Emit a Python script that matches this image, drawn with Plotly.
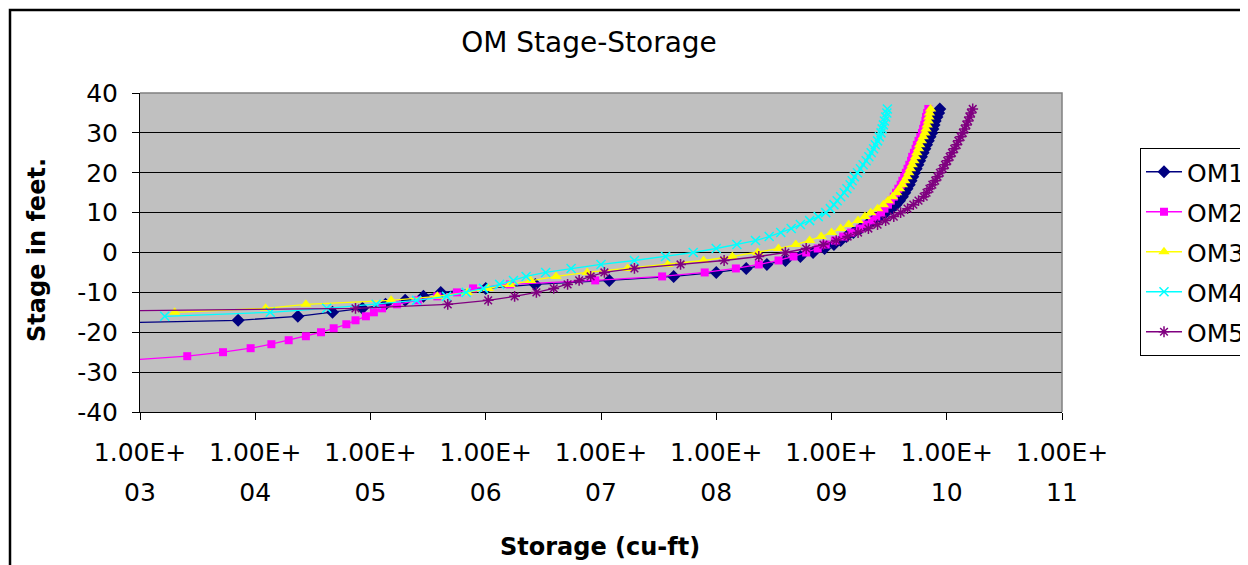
import plotly.graph_objects as go

# ---------------- data ----------------
stage_om1 = [-18, -17, -16, -15, -14, -13, -12, -11, -10, -9, -8, -7, -6, -5, -4, -3, -2, -1,
             0, 1, 2, 3, 4, 5, 6, 7, 8, 9, 10, 11, 12, 13, 14, 15, 16, 17, 18, 19, 20,
             21, 22, 23, 24, 25, 26, 27, 28, 29, 30, 31, 32, 33, 34, 35, 36]
storage_om1 = [1.4e2, 7.1e3, 2.34e4, 4.68e4, 8.51e4, 1.35e5, 2.0e5, 2.88e5, 4.07e5, 1.0e6,
               2.69e6, 1.18e7, 4.27e7, 1.0e8, 1.82e8, 2.75e8, 3.98e8, 5.37e8,
               6.92e8, 8.71e8, 1.05e9, 1.20e9, 1.35e9, 1.55e9, 1.78e9, 2.04e9, 2.29e9, 2.63e9,
               2.95e9, 3.31e9, 3.63e9, 3.89e9, 4.12e9, 4.32e9, 4.52e9, 4.73e9, 4.90e9, 5.07e9,
               5.25e9, 5.43e9, 5.62e9, 5.82e9, 6.03e9, 6.24e9, 6.46e9, 6.68e9, 6.92e9, 7.16e9,
               7.41e9, 7.59e9, 7.76e9, 7.94e9, 8.22e9, 8.51e9, 8.71e9]

stage_om2 = [-27, -26, -25, -24, -23, -22, -21, -20, -19, -18, -17, -16, -15, -14, -13, -12,
             -11, -10, -9, -8, -7, -6, -5, -4, -3, -2, -1,
             0, 1, 2, 3, 4, 5, 6, 7, 8, 9, 10, 11, 12, 13, 14, 15, 16, 17, 18, 19, 20,
             21, 22, 23, 24, 25, 26, 27, 28, 29, 30, 31, 32, 33, 34, 35, 36]
storage_om2 = [7.9e2, 2.57e3, 5.25e3, 9.12e3, 1.38e4, 1.95e4, 2.75e4, 3.72e4, 4.79e4, 6.17e4,
               7.41e4, 9.12e4, 1.07e5, 1.26e5, 1.70e5, 2.57e5, 3.80e5, 5.62e5, 7.76e5, 1.62e6,
               8.91e6, 3.39e7, 7.94e7, 1.48e8, 2.34e8, 3.47e8, 4.68e8,
               6.03e8, 7.59e8, 8.91e8, 1.07e9, 1.26e9, 1.48e9, 1.76e9, 2.0e9, 2.24e9, 2.45e9,
               2.69e9, 2.88e9, 3.09e9, 3.27e9, 3.47e9, 3.63e9, 3.80e9, 3.98e9, 4.12e9, 4.27e9,
               4.42e9, 4.57e9, 4.73e9, 4.90e9, 5.01e9, 5.19e9, 5.37e9, 5.50e9, 5.69e9, 5.89e9,
               6.10e9, 6.24e9, 6.38e9, 6.53e9, 6.61e9, 6.76e9, 6.92e9]

stage_om3 = [-15, -14, -13, -12, -11, -10, -9, -8, -7, -6, -5, -4, -3, -2, -1,
             0, 1, 2, 3, 4, 5, 6, 7, 8, 9, 10, 11, 12, 13, 14, 15, 16, 17, 18, 19, 20,
             21, 22, 23, 24, 25, 26, 27, 28, 29, 30, 31, 32, 33, 34, 35, 36]
storage_om3 = [2.0e3, 1.23e4, 2.75e4, 1.51e5, 3.80e5, 6.92e5, 1.05e6, 1.62e6, 2.45e6, 4.07e6,
               7.59e6, 1.70e7, 3.80e7, 7.76e7, 1.38e8,
               2.29e8, 3.47e8, 4.90e8, 6.46e8, 8.13e8, 1.0e9, 1.20e9, 1.41e9, 1.70e9, 1.95e9,
               2.19e9, 2.51e9, 2.82e9, 3.09e9, 3.39e9, 3.67e9, 3.89e9, 4.12e9, 4.32e9, 4.52e9,
               4.68e9, 4.84e9, 5.01e9, 5.19e9, 5.37e9, 5.50e9, 5.69e9, 5.82e9, 6.03e9, 6.24e9,
               6.46e9, 6.61e9, 6.76e9, 6.92e9, 7.0e9, 7.08e9, 7.24e9]

stage_om4 = [-16, -15, -14, -13, -12, -11, -10, -9, -8, -7, -6, -5, -4, -3, -2, -1,
             0, 1, 2, 3, 4, 5, 6, 7, 8, 9, 10, 11, 12, 13, 14, 15, 16, 17, 18, 19, 20,
             21, 22, 23, 24, 25, 26, 27, 28, 29, 30, 31, 32, 33, 34, 35, 36]
storage_om4 = [1.64e3, 1.35e4, 4.17e4, 1.12e5, 2.51e5, 4.57e5, 6.76e5, 9.55e5, 1.32e6, 1.74e6,
               2.24e6, 3.31e6, 5.50e6, 1.0e7, 1.95e7, 3.63e7,
               6.31e7, 1.0e8, 1.51e8, 2.19e8, 2.88e8, 3.63e8, 4.47e8, 5.37e8, 6.46e8, 7.67e8,
               8.91e8, 9.77e8, 1.05e9, 1.12e9, 1.20e9, 1.29e9, 1.36e9, 1.45e9, 1.51e9, 1.58e9,
               1.68e9, 1.78e9, 1.88e9, 2.0e9, 2.11e9, 2.21e9, 2.32e9, 2.40e9, 2.51e9, 2.60e9,
               2.69e9, 2.75e9, 2.82e9, 2.88e9, 2.95e9, 3.02e9, 3.05e9]

stage_om5 = [-15, -14, -13, -12, -11, -10, -9, -8, -7, -6, -5, -4, -3, -2, -1,
             0, 1, 2, 3, 4, 5, 6, 7, 8, 9, 10, 11, 12, 13, 14, 15, 16, 17, 18, 19, 20,
             21, 22, 23, 24, 25, 26, 27, 28, 29, 30, 31, 32, 33, 34, 35, 36]
storage_om5 = [5.6e1, 7.41e4, 4.68e5, 1.05e6, 1.78e6, 2.75e6, 3.89e6, 5.13e6, 6.46e6, 8.13e6,
               1.07e7, 1.95e7, 4.90e7, 1.17e8, 2.34e8,
               3.98e8, 6.03e8, 8.51e8, 1.10e9, 1.38e9, 1.70e9, 2.09e9, 2.51e9, 2.95e9, 3.47e9,
               3.98e9, 4.57e9, 5.13e9, 5.69e9, 6.31e9, 6.68e9, 7.08e9, 7.50e9, 7.94e9, 8.32e9,
               8.71e9, 9.23e9, 9.66e9, 1.01e10, 1.06e10, 1.11e10, 1.16e10, 1.22e10, 1.26e10,
               1.32e10, 1.38e10, 1.43e10, 1.48e10, 1.53e10, 1.58e10, 1.62e10, 1.68e10]

series_names = ["OM1", "OM2", "OM3", "OM4", "OM5"]

x_tickvals = [1e3, 1e4, 1e5, 1e6, 1e7, 1e8, 1e9, 1e10, 1e11]
x_ticktext_top = ["1.00E+"] * 9
x_ticktext_bottom = ["03", "04", "05", "06", "07", "08", "09", "10", "11"]
y_tickvals = [-40, -30, -20, -10, 0, 10, 20, 30, 40]
y_ticktext = ["-40", "-30", "-20", "-10", "0", "10", "20", "30", "40"]

# ---------------- layout geometry ----------------
OFF = 8                      # the page places the figure 8 px in from the corner
W, H = 1248 - OFF, 565 - OFF
# plot-area box, in figure pixels
PL, PR, PT, PB = 140 - OFF, 1062 - OFF, 93 - OFF, 412 - OFF
FONT = "DejaVu Sans"


def px_x(px):
    """screen pixel -> paper x"""
    return (px - OFF - PL) / (PR - PL)


def px_y(py):
    """screen pixel -> paper y"""
    return (PB - (py - OFF)) / (PB - PT)


styles = [
    dict(color="#000080", symbol="diamond", size=10, lw=0),
    dict(color="#FF00FF", symbol="square", size=8, lw=0),
    dict(color="#FFFF00", symbol="triangle-up", size=10, lw=0),
    dict(color="#00FFFF", symbol="x-thin-open", size=9, lw=1.5),
    dict(color="#800080", symbol="asterisk-open", size=9, lw=1.5),
]
data = [(stage_om1, storage_om1), (stage_om2, storage_om2), (stage_om3, storage_om3),
        (stage_om4, storage_om4), (stage_om5, storage_om5)]

fig = go.Figure()
for name, (st, sto), s in zip(series_names, data, styles):
    fig.add_trace(go.Scatter(
        x=sto, y=st, name=name, mode="lines+markers", legendgroup=name,
        line=dict(color=s["color"], width=1.3),
        marker=dict(symbol=s["symbol"], size=s["size"], color=s["color"],
                    line=dict(color=s["color"], width=s["lw"])),
    ))

# helper trace so the second (label) axis is drawn
fig.add_trace(go.Scatter(x=[], y=[], xaxis="x2", showlegend=False, hoverinfo="skip"))

fig.update_layout(
    width=W, height=H,
    margin=dict(l=PL, r=W - PR, t=PT, b=H - PB, autoexpand=False),
    paper_bgcolor="white", plot_bgcolor="#C0C0C0",
    font=dict(family=FONT, color="black", size=25),
    title=dict(text="OM Stage-Storage", xref="container", yref="container",
               x=(589 - OFF) / W, y=1 - (42 - OFF) / H, xanchor="center", yanchor="middle",
               font=dict(family=FONT, size=28, color="black")),
    legend=dict(xref="container", yref="container", x=(1140 - OFF) / W,
                y=1 - (148 - OFF) / H,
                xanchor="left", yanchor="top", bgcolor="white", bordercolor="black",
                borderwidth=1, font=dict(family=FONT, size=25), tracegroupgap=4.5,
                itemwidth=36),
    xaxis=dict(type="log", range=[3, 11], tickvals=x_tickvals, ticktext=x_ticktext_top,
               showline=True, linecolor="black", linewidth=1, ticks="outside", ticklen=7,
               tickcolor="black", showgrid=False, zeroline=False, ticklabelstandoff=11,
               tickfont=dict(family=FONT, size=25)),
    xaxis2=dict(type="log", range=[3, 11], overlaying="x", anchor="y", side="bottom",
                tickvals=x_tickvals, ticktext=x_ticktext_bottom, showline=False, ticks="",
                showgrid=False, zeroline=False, ticklabelstandoff=63,
                tickfont=dict(family=FONT, size=25)),
    yaxis=dict(range=[-40, 40], tickvals=y_tickvals, ticktext=y_ticktext, showline=True,
               linecolor="black", linewidth=1, ticks="outside", ticklen=7, tickcolor="black",
               gridcolor="black", gridwidth=1, zeroline=False, ticklabelstandoff=9,
               tickfont=dict(family=FONT, size=25)),
    annotations=[
        dict(text="<b>Stage in feet.</b>", xref="paper", yref="paper", x=px_x(37),
             y=px_y(250), textangle=-90, showarrow=False, xanchor="center",
             yanchor="middle", font=dict(family=FONT, size=24, color="black")),
        dict(text="<b>Storage (cu-ft)</b>", xref="paper", yref="paper", x=px_x(600),
             y=px_y(547), showarrow=False, xanchor="center", yanchor="middle",
             font=dict(family=FONT, size=24, color="black")),
    ],
    shapes=[
        # grey plot-area frame (top and right)
        dict(type="path", xref="paper", yref="paper", path="M 0,1 L 1,1 L 1,0",
             line=dict(color="#808080", width=1.5), layer="above"),
        # outer chart-area border
        dict(type="path", xref="paper", yref="paper",
             path=f"M {px_x(10)},{px_y(700)} L {px_x(10)},{px_y(10)} L {px_x(1400)},{px_y(10)}",
             line=dict(color="black", width=2.5), layer="above"),
    ],
)

fig.write_html("out.html")
